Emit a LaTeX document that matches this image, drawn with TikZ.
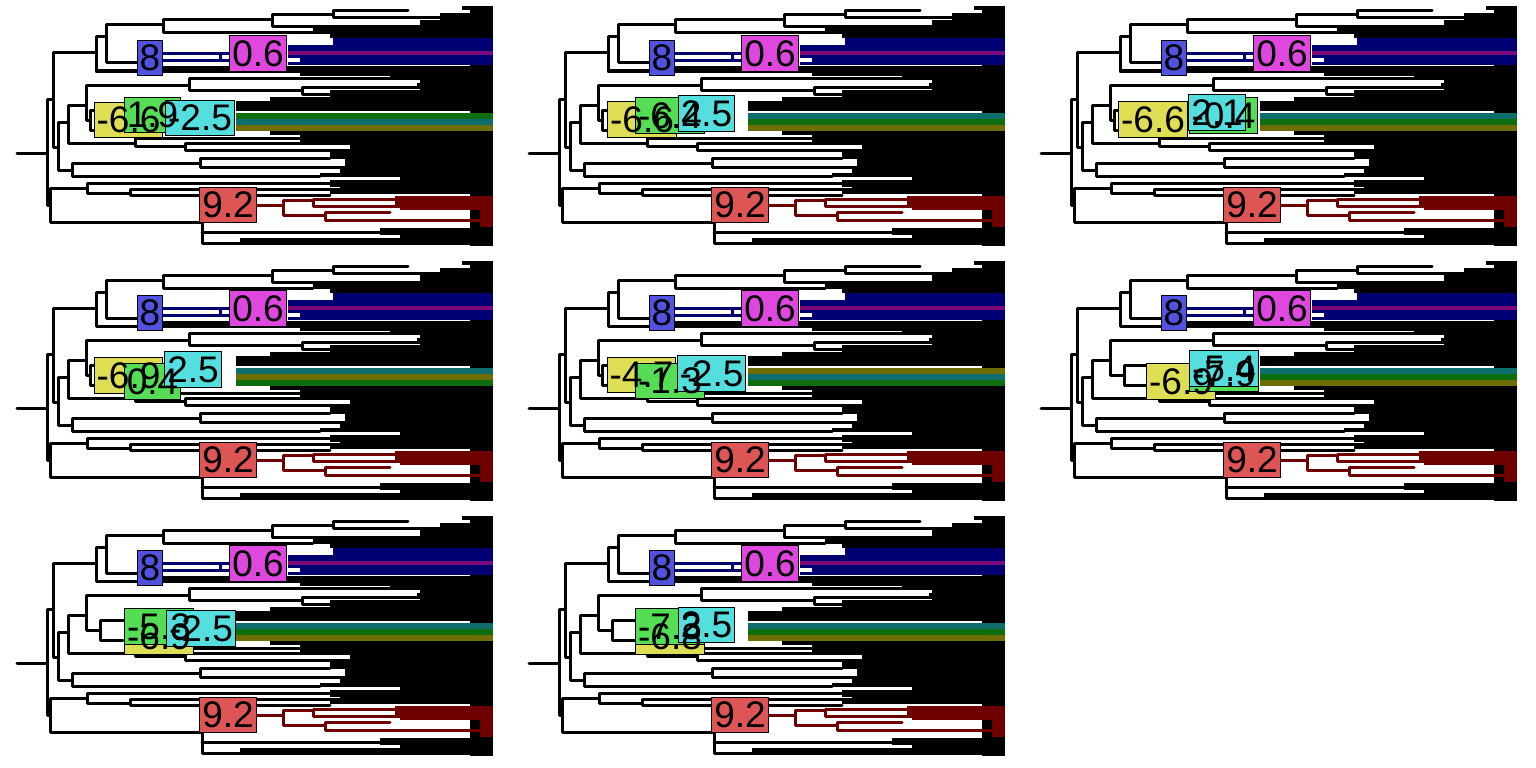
\documentclass[tikz,border=0pt]{standalone}
\usepackage{fontspec}
\setmainfont{Liberation Sans}
\usetikzlibrary{positioning}
\definecolor{cnavy}{HTML}{000073}
\definecolor{cpurp}{HTML}{7A0A7A}
\definecolor{cdgreen}{HTML}{0E6E0E}
\definecolor{cteal}{HTML}{0E6E6E}
\definecolor{colive}{HTML}{6E6E00}
\definecolor{cdred}{HTML}{6E0000}
\definecolor{lblue}{HTML}{5252E0}
\definecolor{lmag}{HTML}{DE48DE}
\definecolor{lyel}{HTML}{DEDE55}
\definecolor{lgrn}{HTML}{55DE55}
\definecolor{lcyn}{HTML}{55DEDE}
\definecolor{lred}{HTML}{DE5555}
\pgfdeclarelayer{boxes}
\pgfdeclarelayer{texts}
\pgfsetlayers{main,boxes,texts}
\tikzset{
  br/.style={draw=#1, line width=3pt, line cap=round, line join=round},
  br/.default=black,
  tip/.style={draw=#1, line width=3.2pt},
  tip/.default=black,
  lbox/.style={draw=black, fill=#1, line width=1pt, inner xsep=2.6pt, inner ysep=4.6pt, font=\fontsize{37}{40}\selectfont},
  ltext/.style={font=\fontsize{37}{40}\selectfont, inner sep=0pt},
}
% label: box first, text on top of every box
\newcommand{\lab}[5]{%
  \begin{pgfonlayer}{boxes}\node[lbox=#4] (#1) at (#2,#3) {\phantom{#5}};\end{pgfonlayer}
  \begin{pgfonlayer}{texts}\node[ltext] at (#1) {#5};\end{pgfonlayer}}
% one tree: prefix, bracket x, three band colours
\newcommand{\treepanel}[5]{%
  % tips
  \fill (470,6.5) rectangle (493,246);
  \foreach \y/\x in {8/462, 11.5/470, 15/440, 18.5/440, 22/420, 25.5/420, 29/313, 32.5/313, 36/330,
    67.5/163, 71/163, 74.5/300, 78/390, 81.5/420, 85/417, 88.5/420, 92/330, 95.5/330, 99/270,
    102.5/236, 106/236, 109.5/236,
    133/270, 136.5/300, 140/300, 143.5/330, 147/350, 150.5/250, 154/330, 157.5/330, 161/345,
    164.5/345, 168/340, 171.5/340, 175/320, 178.5/400, 182/330, 185.5/330, 189/340, 192.5/330,
    229.5/380, 233/380, 236.5/400, 240/240, 243.5/240}
    \draw[tip] (\x,\y) -- (493,\y);
  \foreach \y/\x in {39.5/333, 43/333, 46.5/288, 50/288, 56.5/288, 60/300, 63.5/288}
    \draw[tip=cnavy] (\x,\y) -- (493,\y);
  \draw[tip=cpurp] (288,53) -- (493,53);
  \foreach \y in {114.5, 117.5} \draw[tip=#3] (236,\y) -- (493,\y);
  \foreach \y in {120.5, 123.5} \draw[tip=#4] (236,\y) -- (493,\y);
  \foreach \y in {126.5, 129.5} \draw[tip=#5] (236,\y) -- (493,\y);
  \foreach \y/\x in {197.5/395, 201/395, 204.5/395, 208/400, 211.5/480, 215/480, 218.5/480, 222/480, 225.5/480}
    \draw[tip=cdred] (\x,\y) -- (493,\y);
  % branches
  \draw[br] (17,153) -- (47,153);
  \foreach \a/\b/\p/\c/\d in {53/99/47/50/205, 96/53/53/58/147, 106/37/96/163/71,
    163/25/106/137/63, 272/20/163/313/33, 333/15/272/420/27, 408/11/333/440/18,
    68/122/58/72/170, 86/105/68/135/143, 390/78/189/302/90, 420/87/302/330/94,
    300/138/135/185/146, 330/143/185/250/150, 200/163/72/320/176, 330/158/200/345/167,
    87/188/50/202/222, 330/183/87/130/193, 340/189/130/330/195}
    \draw[br] (\a,\b) -| (\p,\d) -- (\c,\d);
  \draw[br] (189,85) -| (86,120) -- (#2,120);
  \draw[br] (164,110) -| (#2,130) -- (123,130);
  \draw[br] (202,205) |- (240,243);
  \draw[br] (202,232) -- (380,232);
  % blue clade
  \draw[br=cnavy] (163,53.5) -- (220,53.5) (163,60.5) -- (220,60.5);
  \draw[br=cnavy] (229,53.5) -| (220,60.5) -- (229,60.5);
  % red clade
  \draw[br=cdred] (202,205) -- (283,205);
  \draw[br=cdred] (313,200) -| (283,215) -- (325,215);
  \draw[br=cdred] (395,199) -| (313,206) -- (400,206);
  \draw[br=cdred] (390,212) -| (325,220) -- (480,220);
  % fixed labels
  \lab{#1e}{150}{58}{lblue}{8}
  \lab{#1s}{258}{53.5}{lmag}{0.6}
  \lab{#1n}{228}{205}{lred}{9.2}
}

\begin{document}
\begin{tikzpicture}[x=1pt, y=-1pt]
  \useasboundingbox (0,0) rectangle (1536,768);
  % row 1
  \begin{scope}[shift={(0,0)}]
    \treepanel{pa}{90}{cdgreen}{cteal}{colive}
    \lab{pay}{128.5}{120}{lyel}{-6.6}
    \lab{pag}{152.5}{115}{lgrn}{1.9}
    \lab{pac}{200}{118}{lcyn}{-2.5}
  \end{scope}
  \begin{scope}[shift={(512,0)}]
    \treepanel{pb}{90}{cteal}{cdgreen}{colive}
    \lab{pby}{130}{119.5}{lyel}{-6.6}
    \lab{pbg}{158}{115.5}{lgrn}{-6.4}
    \lab{pbc}{194.5}{113.5}{lcyn}{2.5}
  \end{scope}
  \begin{scope}[shift={(1024,0)}]
    \treepanel{pc}{90}{cteal}{cdgreen}{colive}
    \lab{pcy}{129}{119.5}{lyel}{-6.6}
    \lab{pcg}{199.5}{115.5}{lgrn}{-0.4}
    \lab{pcc}{193}{112.5}{lcyn}{2.1}
  \end{scope}
  % row 2
  \begin{scope}[shift={(0,255)}]
    \treepanel{pd}{90}{cteal}{colive}{cdgreen}
    \lab{pdy}{128.5}{120.5}{lyel}{-6.9}
    \lab{pdg}{152.5}{126.5}{lgrn}{0.4}
    \lab{pdc}{193}{114.5}{lcyn}{2.5}
  \end{scope}
  \begin{scope}[shift={(512,255)}]
    \treepanel{pe}{90}{colive}{cteal}{cdgreen}
    \lab{pey}{129.5}{120}{lyel}{-4.7}
    \lab{peg}{158}{126}{lgrn}{-1.3}
    \lab{pec}{199.5}{118.5}{lcyn}{-2.5}
  \end{scope}
  \begin{scope}[shift={(1024,255)}]
    \treepanel{pf}{100}{cteal}{cdgreen}{colive}
    \lab{pfy}{157}{126.5}{lyel}{-6.9}
    \lab{pfg}{200}{118.5}{lgrn}{-7.9}
    \lab{pfc}{200}{113.5}{lcyn}{-5.4}
  \end{scope}
  % row 3
  \begin{scope}[shift={(0,510)}]
    \treepanel{pg}{100}{cteal}{cdgreen}{colive}
    \lab{pgy}{159}{126.5}{lyel}{-6.9}
    \lab{pgg}{159}{116.5}{lgrn}{-5.3}
    \lab{pgc}{201}{118.5}{lcyn}{-2.5}
  \end{scope}
  \begin{scope}[shift={(512,510)}]
    \treepanel{ph}{100}{cteal}{cdgreen}{colive}
    \lab{phy}{158}{126.5}{lyel}{-6.8}
    \lab{phg}{158}{116.5}{lgrn}{-7.3}
    \lab{phc}{194.5}{115}{lcyn}{2.5}
  \end{scope}
\end{tikzpicture}
\end{document}
